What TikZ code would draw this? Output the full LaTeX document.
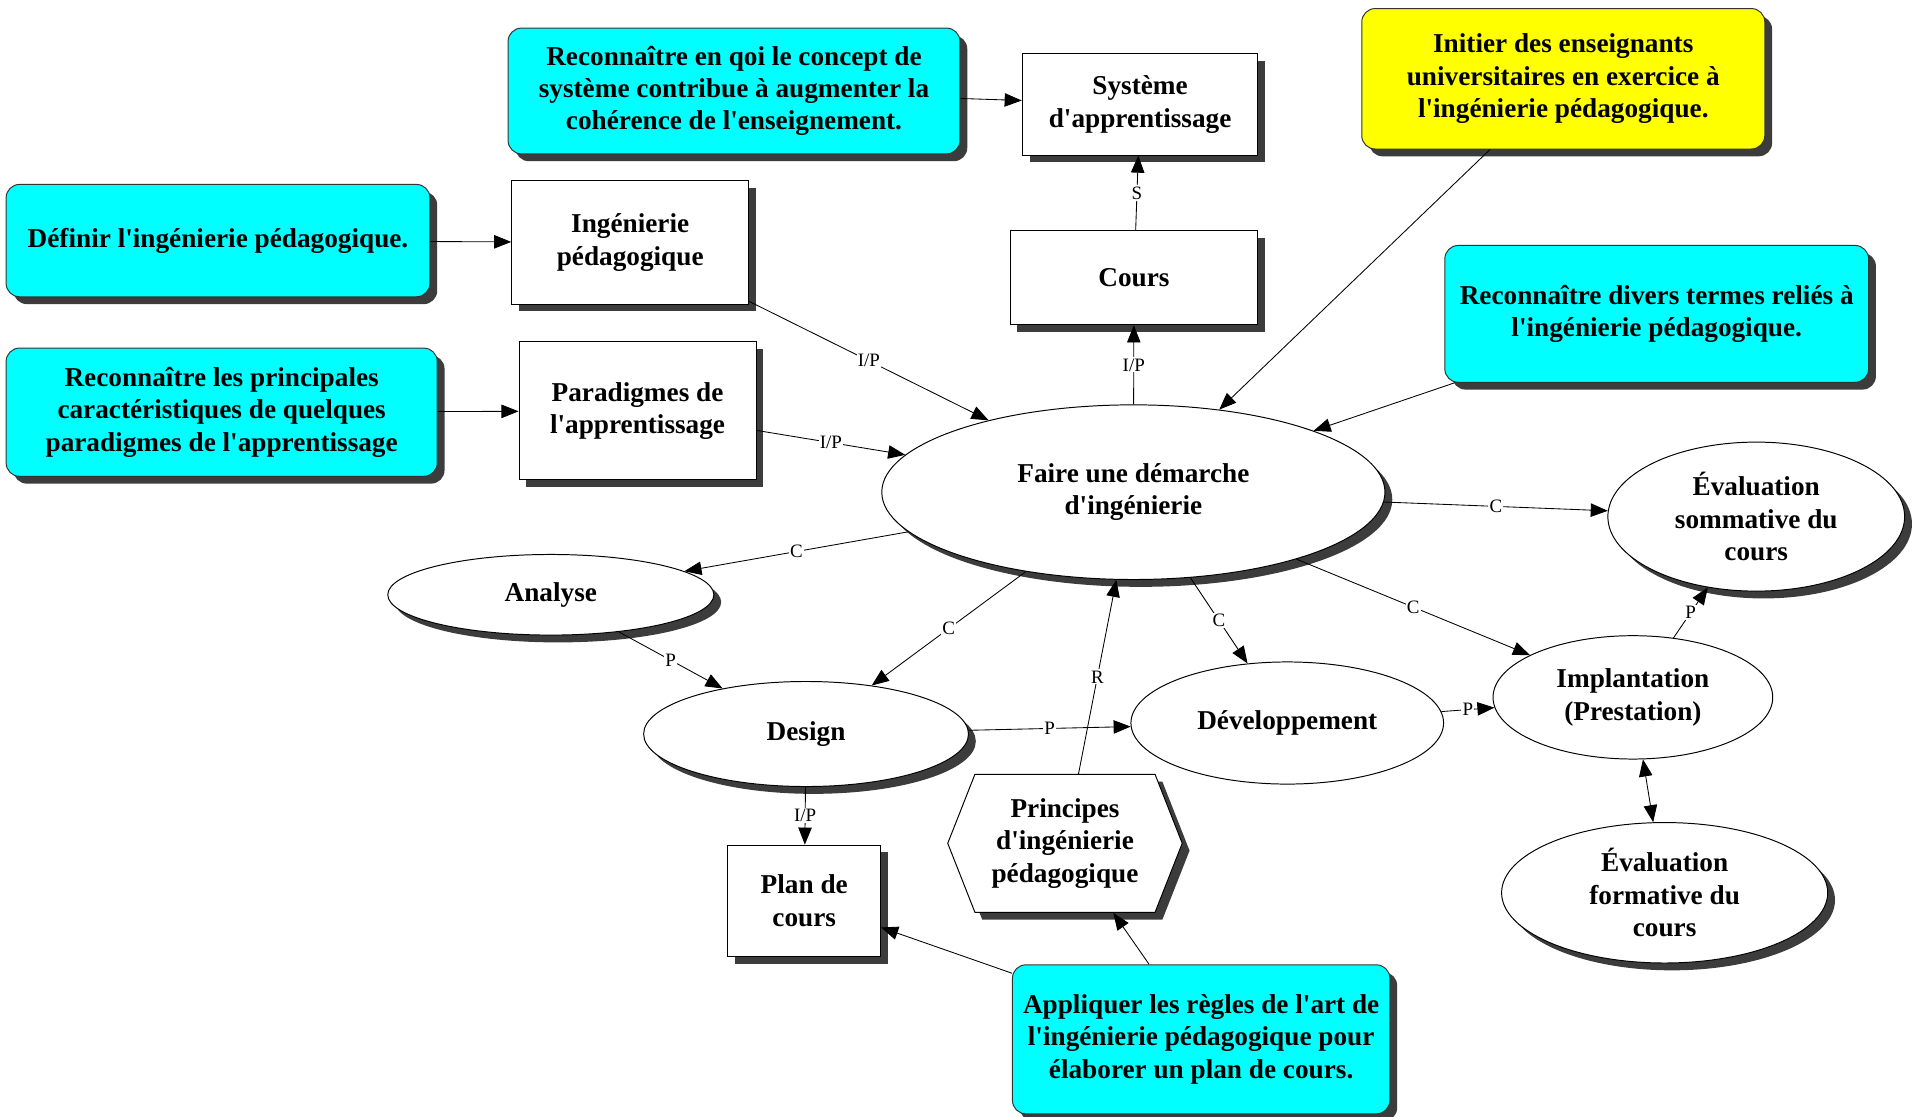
\documentclass[tikz,border=0pt]{standalone}
\usepackage{fontspec}
\setmainfont{Liberation Serif}[Ligatures=TeXOff]
\usetikzlibrary{shapes.geometric,shapes.symbols,shadows,arrows.meta}
\definecolor{cyanbox}{HTML}{00FFFF}
\definecolor{yellowbox}{HTML}{FFFF00}
\definecolor{shade}{HTML}{3C3C3C}
\tikzset{
  base/.style={draw=black, line width=0.8pt, inner sep=0pt, align=center,
    font=\bfseries\fontsize{22.3}{26.5}\selectfont},
  shd/.style={drop shadow={shadow xshift=6pt, shadow yshift=-6pt, fill=shade, opacity=1}},
  goal/.style={base, rounded corners=11pt, fill=cyanbox, draw=black!80, shd},
  target/.style={base, rounded corners=11pt, fill=yellowbox, draw=black!80, shd},
  concept/.style={base, rectangle, fill=white, shd},
  proc/.style={base, ellipse, fill=white},
  procs/.style={base, ellipse, fill=white, shd},
  princ/.style={base, signal, signal to=east and west, signal pointer angle=137, fill=white, shd},
  link/.style={line width=0.7pt, -{Triangle[length=14pt,width=11pt]}},
  dlink/.style={line width=0.7pt, {Triangle[length=14pt,width=11pt]}-{Triangle[length=14pt,width=11pt]}},
  lbl/.style={fill=white, inner sep=1pt, font=\fontsize{15.5}{15.5}\selectfont}
}
\begin{document}
\begin{tikzpicture}[x=1pt, y=-1pt]
\useasboundingbox (0,0) rectangle (1568,914.6);
% goal boxes
\node[goal, minimum width=370pt, minimum height=103pt] (g1) at (601,74.5)
  {Reconnaître en qoi le concept de\\système contribue à augmenter la\\cohérence de l'enseignement.};
\node[goal, minimum width=347pt, minimum height=92pt] (g2) at (178.5,197)
  {Définir l'ingénierie pédagogique.};
\node[goal, minimum width=353pt, minimum height=105pt] (g3) at (181.5,337.5)
  {Reconnaître les principales\\caractéristiques de quelques\\paradigmes de l'apprentissage};
\node[target, minimum width=330pt, minimum height=115pt] (g4) at (1280,64.5)
  {Initier des enseignants\\universitaires en exercice à\\l'ingénierie pédagogique.};
\node[goal, minimum width=347pt, minimum height=112pt] (g5) at (1356.5,257)
  {Reconnaître divers termes reliés à\\l'ingénierie pédagogique.};
\node[goal, minimum width=309pt, minimum height=122pt] (g6) at (983.5,851)
  {Appliquer les règles de l'art de\\l'ingénierie pédagogique pour\\élaborer un plan de cours.};
% concepts
\node[concept, minimum width=193pt, minimum height=83pt] (sys) at (933.5,85.5) {Système\\d'apprentissage};
\node[concept, minimum width=194pt, minimum height=101pt] (ing) at (516,198.5) {Ingénierie\\pédagogique};
\node[concept, minimum width=203pt, minimum height=77pt] (cours) at (928.5,227.5) {Cours};
\node[concept, minimum width=194pt, minimum height=113pt] (para) at (522,336.5) {Paradigmes de\\l'apprentissage};
\node[concept, minimum width=125pt, minimum height=91pt] (plan) at (658.5,737.5) {Plan de\\cours};
% processes
\node[procs, minimum width=412pt, minimum height=143pt] (faire) at (928,403) {Faire une démarche\\d'ingénierie};
\node[procs, minimum width=243pt, minimum height=122pt] (evs) at (1438,423) {Évaluation\\sommative du\\cours};
\node[procs, minimum width=267pt, minimum height=66pt] (ana) at (451,487) {Analyse};
\node[procs, minimum width=266pt, minimum height=86pt] (des) at (660,601) {Design};
\node[proc, minimum width=256pt, minimum height=100pt] (dev) at (1054,592) {Développement};
\node[proc, minimum width=229pt, minimum height=101pt] (impl) at (1337,571) {Implantation\\(Prestation)};
\node[procs, minimum width=267pt, minimum height=115pt] (evf) at (1363,731) {Évaluation\\formative du\\cours};
\node[princ, minimum width=192pt, minimum height=113pt] (prin) at (872,690.5) {Principes\\d'ingénierie\\pédagogique};
% connectors
\draw[link] (g1) -- (sys);
\draw[link] (g2) -- (ing);
\draw[link] (g3) -- (para);
\draw[link] (g4) -- (faire);
\draw[link] (g5) -- (faire);
\draw[link] (g6) -- (plan);
\draw[link] (g6) -- (prin);
\draw[link] (cours) -- node[lbl]{S} (sys);
\draw[link] (faire) -- node[lbl]{I/P} (cours);
\draw[link] (ing) -- node[lbl]{I/P} (faire);
\draw[link] (para) -- node[lbl]{I/P} (faire);
\draw[link] (faire) -- node[lbl]{C} (evs);
\draw[link] (faire) -- node[lbl]{C} (ana);
\draw[link] (faire) -- node[lbl]{C} (des);
\draw[link] (faire) -- node[lbl]{C} (dev);
\draw[link] (faire) -- node[lbl]{C} (impl);
\draw[link] (ana) -- node[lbl]{P} (des);
\draw[link] (des) -- node[lbl]{P} (dev);
\draw[link] (dev) -- node[lbl]{P} (impl);
\draw[link] (impl) -- node[lbl]{P} (evs);
\draw[dlink] (impl) -- (evf);
\draw[link] (des) -- node[lbl]{I/P} (plan);
\draw[link] (prin) -- node[lbl]{R} (faire);
\end{tikzpicture}
\end{document}
